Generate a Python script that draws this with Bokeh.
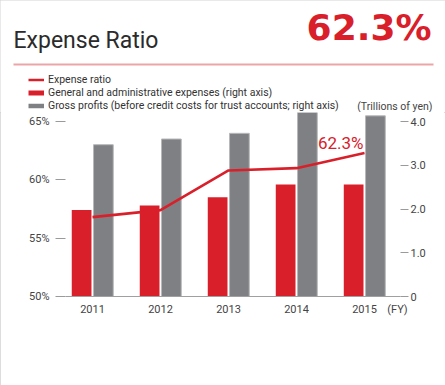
from bokeh.plotting import figure
from bokeh.layouts import column
from bokeh.models import (ColumnDataSource, Range1d, LinearAxis, FixedTicker, Label,
                          Legend, LegendItem, PrintfTickFormatter)
from bokeh.transform import dodge
from bokeh.embed import file_html
from bokeh.resources import INLINE

# ---- data ----
years = ["2011", "2012", "2013", "2014", "2015"]
expense_ratio = [56.8, 57.4, 60.8, 61.0, 62.3]          # %
ga_expenses = [1.98, 2.08, 2.27, 2.56, 2.56]             # trillions of yen
gross_profits = [3.47, 3.60, 3.73, 4.21, 4.13]           # trillions of yen
left_ticks = [50, 55, 60, 65]
right_ticks = [0, 1, 2, 3, 4]
series_names = ["Expense ratio",
                "General and administrative expenses (right axis)",
                "Gross profits (before credit costs for trust accounts; right axis)"]

RED = "#d9202a"
GRAY = "#7f8083"
FONT = "Roboto"
TXT = "#444444"

idx = list(range(len(years)))
src = ColumnDataSource(dict(x=idx, year=years, ratio=expense_ratio,
                            ga=ga_expenses, gp=gross_profits))

# ---------------- header (title, headline value, legend) ----------------
W, HH = 445, 112
hdr = figure(width=W, height=HH, output_backend="svg", toolbar_location=None,
             x_range=Range1d(0, W), y_range=Range1d(HH, 0),
             x_axis_type=None, y_axis_type=None,
             min_border_left=0, min_border_right=0, min_border_top=0, min_border_bottom=0)
hdr.frame_align = False
hdr.outline_line_color = None
hdr.grid.visible = False
hdr.border_fill_color = "white"

hdr.add_layout(Label(x=13, y=40, text="Expense Ratio", text_font=FONT,
                     text_font_size="23px", text_color="#2b2b2b",
                     text_baseline="middle"))
hdr.add_layout(Label(x=431, y=26.5, text=f"{expense_ratio[-1]}%", text_font="DejaVu Sans",
                     text_font_style="bold", text_font_size="36px", text_color=RED,
                     text_align="right", text_baseline="middle"))
hdr.segment(x0=[13], x1=[433], y0=[64], y1=[64], line_color="#eba5a8", line_width=2)
hdr.add_layout(Label(x=432, y=105.5, text="(Trillions of yen)", text_font=FONT,
                     text_font_size="10.5px", text_color=TXT, text_align="right",
                     text_baseline="middle"))

# legend keys: hidden renderers of the real series supply the key styles
k_line = hdr.line(x="x", y="ratio", source=src, line_color=RED, line_width=2.5, visible=False)
k_red = hdr.line(x="x", y="ga", source=src, line_color=RED, line_width=5, visible=False)
k_gray = hdr.line(x="x", y="gp", source=src, line_color=GRAY, line_width=4.5, visible=False)
legend = Legend(items=[LegendItem(label=series_names[0], renderers=[k_line]),
                       LegendItem(label=series_names[1], renderers=[k_red]),
                       LegendItem(label=series_names[2], renderers=[k_gray])],
                location=(28, 0), orientation="vertical", glyph_width=16, glyph_height=13,
                label_height=13, spacing=0, padding=0, margin=0, label_standoff=4,
                label_text_font=FONT, label_text_font_size="10.5px",
                label_text_color="#333333", border_line_color=None,
                background_fill_alpha=0, inactive_fill_alpha=0)
hdr.add_layout(legend, "center")

# ---------------- chart ----------------
CH = 385 - HH
p = figure(width=W, height=CH, output_backend="svg", toolbar_location=None,
           x_range=Range1d(-0.397, 4.529), y_range=Range1d(50, 65.771),
           min_border_left=65, min_border_right=45, min_border_top=0,
           min_border_bottom=89)
p.frame_align = False
p.outline_line_color = None
p.grid.visible = False
p.border_fill_color = "white"
p.extra_y_ranges = {"right": Range1d(0, 4.206)}

p.vbar(x=dodge("x", -0.16), top="ga", width=0.29, source=src,
       y_range_name="right", fill_color=RED, line_color=None)
p.vbar(x=dodge("x", 0.16), top="gp", width=0.29, source=src,
       y_range_name="right", fill_color=GRAY, line_color="#b8b8bb", line_width=1)
p.line(x="x", y="ratio", source=src, line_color=RED, line_width=2.6)

p.add_layout(Label(x=idx[-1], y=expense_ratio[-1], x_offset=-1, y_offset=10,
                   text=f"{expense_ratio[-1]}%", text_font=FONT, text_font_size="17px",
                   text_color=RED, text_align="right", text_baseline="middle"))

# x axis: years plus the "(FY)" unit note at the right end
fy_pos = 4.485
xa = p.xaxis[0]
xa.ticker = FixedTicker(ticks=idx + [fy_pos])
overrides = {i: y for i, y in zip(idx, years)}
overrides[fy_pos] = "(FY)"
xa.major_label_overrides = overrides
xa.axis_line_color = "#a0a0a0"
xa.major_tick_out = 0
xa.major_tick_in = 0
xa.minor_tick_line_color = None
xa.major_label_standoff = 6
xa.major_label_text_font = FONT
xa.major_label_text_font_size = "11px"
xa.major_label_text_color = TXT

ya = p.yaxis[0]
ya.ticker = FixedTicker(ticks=left_ticks)
ya.formatter = PrintfTickFormatter(format="%d%%")
ya.axis_line_color = None
ya.major_tick_out = 10
ya.major_tick_in = 0
ya.major_tick_line_color = "#9a9a9a"
ya.minor_tick_line_color = None
ya.major_label_standoff = 6
ya.major_label_text_font = FONT
ya.major_label_text_font_size = "11px"
ya.major_label_text_color = TXT

ra = LinearAxis(y_range_name="right", ticker=FixedTicker(ticks=right_ticks),
                axis_line_color=None, major_tick_out=8, major_tick_in=0,
                major_tick_line_color="#9a9a9a", minor_tick_line_color=None,
                major_label_standoff=2, major_label_text_font=FONT,
                major_label_text_font_size="11px", major_label_text_color=TXT)
ra.major_label_overrides = {0: "0", 1: "1.0", 2: "2.0", 3: "3.0", 4: "4.0"}
p.add_layout(ra, "right")

page = column(hdr, p, spacing=0,
              styles={"outline": "1px solid #d2d2d2", "outline-offset": "-1px"})

open("out.html", "w").write(file_html(page, INLINE))
